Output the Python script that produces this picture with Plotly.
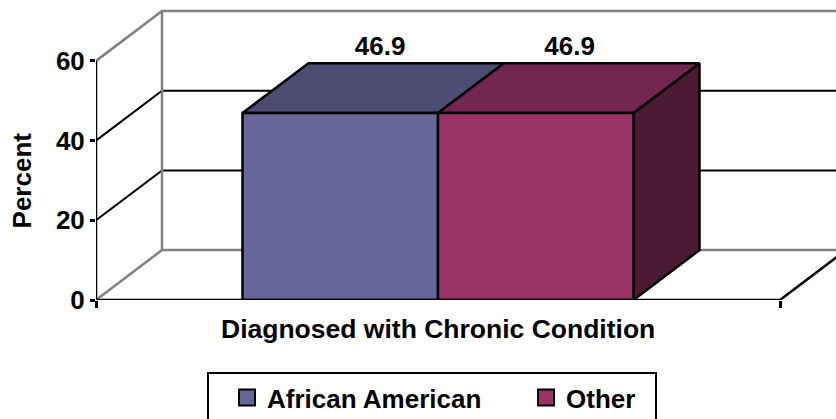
import plotly.graph_objects as go

categories = ["Diagnosed with Chronic Condition"]
series_names = ["African American\u00a0\u00a0\u00a0", "Other\u00a0\u00a0"]
african_american = [46.9]
other = [46.9]
y_ticks = [0, 20, 40, 60]
y_title = "Percent"

front_colors = ["#666699", "#993366"]
top_colors = ["#4D4D73", "#732650"]
side_colors = ["#4D4D73", "#4D1A33"]

# layout constants (oblique projection in axis units)
L, T, PW, PH = 96, 0, 740, 300.5
PX_PER_CAT = 684.0
PX_PER_PCT = 239.5 / 60
DX = 66 / PX_PER_CAT
DY = 50 / PX_PER_PCT
BAR_W = 195.5 / PX_PER_CAT
LABEL_SHIFT_PX = [-1, -7]
FONT = "Liberation Sans, Arial, sans-serif"
BLACK, GREY = "#000000", "#808080"
ymax = max(y_ticks)

fig = go.Figure()

def line(xs, ys, color, width=2.5):
    fig.add_trace(go.Scatter(x=xs, y=ys, mode="lines", showlegend=False, hoverinfo="skip",
                             line=dict(color=color, width=width), cliponaxis=False))

def poly(xs, ys, color):
    fig.add_trace(go.Scatter(x=xs + xs[:1], y=ys + ys[:1], mode="lines", fill="toself", fillcolor=color,
                             line=dict(color=BLACK, width=2.5), showlegend=False, hoverinfo="skip",
                             cliponaxis=False))

x_end = 1 + DX + 0.02
# gridlines on the side and back wall
for t in y_ticks[1:-1]:
    line([0, DX, x_end], [t, t + DY, t + DY], BLACK, 2)
# walls and floor
line([0, DX, x_end], [ymax, ymax + DY, ymax + DY], GREY)
line([DX, DX], [0 + DY, ymax + DY], GREY)
line([0, DX, x_end], [0, DY, DY], GREY)
line([1, 1 + DX], [0, DY], BLACK)

# bars
values = [african_american[0], other[0]]
start = 0.5 - BAR_W * len(values) / 2
for i, v in enumerate(values):
    x0, x1 = start + i * BAR_W, start + (i + 1) * BAR_W
    poly([x1, x1 + DX, x1 + DX, x1], [0, DY, v + DY, v], side_colors[i])
    poly([x0, x1, x1 + DX, x0 + DX], [v, v, v + DY, v + DY], top_colors[i])
    poly([x0, x1, x1, x0], [0, 0, v, v], front_colors[i])

# front axes
line([0, 0], [0, ymax], BLACK)
line([0, 1], [0, 0], BLACK)

# data labels
fig.add_trace(go.Scatter(
    x=[start + (i + 0.5) * BAR_W + DX * 0.62 + LABEL_SHIFT_PX[i] / PX_PER_CAT for i in range(len(values))],
    y=[v + DY + 3.75 for v in values],
    mode="text", text=[f"{v:.1f}" for v in values], textposition="middle center",
    textfont=dict(family=FONT, size=26, color=BLACK, weight="bold"),
    showlegend=False, hoverinfo="skip", cliponaxis=False))

# legend entries
for name, c in zip(series_names, front_colors):
    fig.add_trace(go.Scatter(x=[None], y=[None], mode="markers", name=name,
                             marker=dict(symbol="square", size=16, color=c,
                                         line=dict(color=BLACK, width=2))))

fig.add_annotation(x=0.5, xref="x", y=0, yref="y", yshift=-29, text=categories[0], showarrow=False,
                   font=dict(family=FONT, size=26.5, color=BLACK, weight="bold"))
fig.add_annotation(x=0, xref="x", xshift=22 - L, y=ymax / 2, yref="y", text=y_title, textangle=-90,
                   showarrow=False, font=dict(family=FONT, size=26, color=BLACK, weight="bold"))

fig.update_layout(
    width=836, height=419, autosize=False,
    margin=dict(l=L, r=0, t=T, b=419 - PH, pad=0),
    plot_bgcolor="white", paper_bgcolor="white",
    font=dict(family=FONT, size=26, color=BLACK, weight="bold"),
    showlegend=True,
    legend=dict(orientation="h", xref="container", yref="container",
                x=207 / 836, xanchor="left", y=1 - 372 / 419, yanchor="top",
                bordercolor=BLACK, borderwidth=2, bgcolor="white", indentation=18,
                font=dict(family=FONT, size=26, color=BLACK, weight="bold")),
    xaxis=dict(range=[0, PW / PX_PER_CAT], showgrid=False, zeroline=False, showline=False,
               tickmode="array", tickvals=[0, 1], ticktext=["", ""], ticks="outside",
               ticklen=7, tickwidth=2.5, tickcolor=BLACK, fixedrange=True),
    yaxis=dict(range=[0, PH / PX_PER_PCT], showgrid=False, zeroline=False, showline=False,
               tickmode="array", tickvals=y_ticks, ticks="outside", ticklen=5, tickwidth=2.5,
               tickcolor=BLACK, fixedrange=True),
)

fig.write_html("out.html", config=dict(displayModeBar=False),
               post_script="document.body.style.margin='0';document.body.style.overflow='hidden';")
